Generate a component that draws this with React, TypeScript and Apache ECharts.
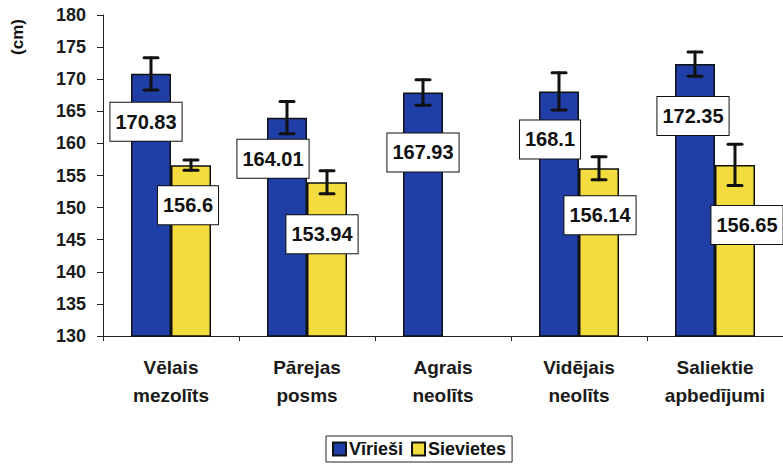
import React, { useEffect, useRef } from "react";
import * as echarts from "echarts";

const categories = [
  "Vēlais\nmezolīts",
  "Pārejas\nposms",
  "Agrais\nneolīts",
  "Vidējais\nneolīts",
  "Saliektie\napbedījumi",
];
const maleValues: (number | null)[] = [170.83, 164.01, 167.93, 168.1, 172.35];
const femaleValues: (number | null)[] = [156.6, 153.94, null, 156.14, 156.65];
const maleErrors: (number | null)[] = [2.5, 2.5, 2.0, 2.9, 1.9];
const femaleErrors: (number | null)[] = [0.8, 1.8, null, 1.8, 3.2];
const yMin = 130;
const yMax = 180;
const yInterval = 5;
const seriesNames = ["Vīrieši", "Sievietes"];

// label placement (layout only), relative to top-centre of each bar
const maleLabelOffsets = [[-5, 48], [-14, 41], [0, 60], [-9, 48], [-2, 52]];
const femaleLabelOffsets = [[-3, 40], [-5, 52], [0, 0], [1, 47], [12, 60]];

const BAR_W = 40;
const BLUE = "#1f3fa6";
const YELLOW = "#f2dc3e";
const FONT = "'Liberation Sans', Arial, sans-serif";

function errorSeries(values: (number | null)[], errors: (number | null)[], shift: number) {
  const data: number[][] = [];
  values.forEach((v, i) => {
    const e = errors[i];
    if (v != null && e != null) data.push([i, v, e]);
  });
  return {
    type: "custom",
    z: 5,
    silent: true,
    data,
    encode: { x: 0, y: 1 },
    renderItem: (_p: any, api: any) => {
      const i = api.value(0);
      const v = api.value(1);
      const e = api.value(2);
      const top = api.coord([i, v + e]);
      const bot = api.coord([i, v - e]);
      const x = top[0] + shift;
      const half = 7;
      const st = { stroke: "#111", lineWidth: 3, lineCap: "round" };
      return {
        type: "group",
        children: [
          { type: "line", shape: { x1: x, y1: top[1], x2: x, y2: bot[1] }, style: st },
          { type: "line", shape: { x1: x - half, y1: top[1], x2: x + half, y2: top[1] }, style: st },
          { type: "line", shape: { x1: x - half, y1: bot[1], x2: x + half, y2: bot[1] }, style: st },
        ],
      };
    },
  };
}

const labelBase = {
  show: true,
  position: ["50%", 0],
  align: "center",
  verticalAlign: "middle",
  backgroundColor: "#fff",
  borderColor: "#111",
  borderWidth: 1,
  padding: [8, 5, 8, 5],
  color: "#111",
  fontFamily: FONT,
  fontWeight: "bold",
  fontSize: 20,
  lineHeight: 22,
};

export default function App() {
  const ref = useRef<HTMLDivElement>(null);
  useEffect(() => {
    if (!ref.current) return;
    const chart = echarts.init(ref.current, null, { renderer: "svg" });
    chart.setOption({
      animation: false,
      backgroundColor: "#fff",
      grid: { left: 103, top: 15, width: 685, height: 321 },
      legend: {
        left: 326,
        top: 436,
        icon: "rect",
        itemWidth: 13,
        itemHeight: 13,
        itemGap: 8,
        borderColor: "#222",
        borderWidth: 1,
        padding: [4, 6, 4, 6],
        textStyle: { fontFamily: FONT, fontWeight: "bold", fontSize: 18, color: "#111", padding: [0, 0, 0, -2] },
        data: seriesNames,
      },
      graphic: [
        {
          type: "text",
          x: 17,
          y: 37,
          rotation: Math.PI / 2,
          style: {
            text: "(cm)",
            fontFamily: FONT,
            fontWeight: "bold",
            fontSize: 17,
            fill: "#111",
            align: "center",
            verticalAlign: "middle",
          },
        },
      ],
      xAxis: {
        type: "category",
        data: categories,
        axisLine: { lineStyle: { color: "#222", width: 1 } },
        axisTick: { show: true, length: 5, lineStyle: { color: "#222" } },
        axisLabel: {
          interval: 0,
          margin: 17,
          fontFamily: FONT,
          fontWeight: "bold",
          fontSize: 19,
          lineHeight: 28,
          color: "#1a1a1a",
        },
      },
      yAxis: {
        type: "value",
        min: yMin,
        max: yMax,
        interval: yInterval,
        splitLine: { show: false },
        axisLine: { show: true, lineStyle: { color: "#222", width: 1 } },
        axisTick: { show: true, length: 6, lineStyle: { color: "#222" } },
        axisLabel: {
          margin: 17,
          fontFamily: FONT,
          fontWeight: "bold",
          fontSize: 18,
          color: "#1a1a1a",
        },
      },
      series: [
        {
          name: seriesNames[0],
          type: "bar",
          barWidth: BAR_W,
          barGap: "0%",
          itemStyle: { color: BLUE, borderColor: "#111", borderWidth: 1.5 },
          label: labelBase,
          z: 2,
          data: maleValues.map((v, i) => ({ value: v, label: { offset: maleLabelOffsets[i] } })),
        },
        {
          name: seriesNames[1],
          type: "bar",
          barWidth: BAR_W,
          barGap: "0%",
          itemStyle: { color: YELLOW, borderColor: "#111", borderWidth: 1.5 },
          label: labelBase,
          z: 2,
          data: femaleValues.map((v, i) => ({ value: v, label: { offset: femaleLabelOffsets[i] } })),
        },
        errorSeries(maleValues, maleErrors, -BAR_W / 2),
        errorSeries(femaleValues, femaleErrors, BAR_W / 2),
      ],
    });
    return () => chart.dispose();
  }, []);
  return (
    <div
      ref={ref}
      style={{ position: "absolute", left: 0, top: 0, width: 783, height: 474 }}
    />
  );
}
